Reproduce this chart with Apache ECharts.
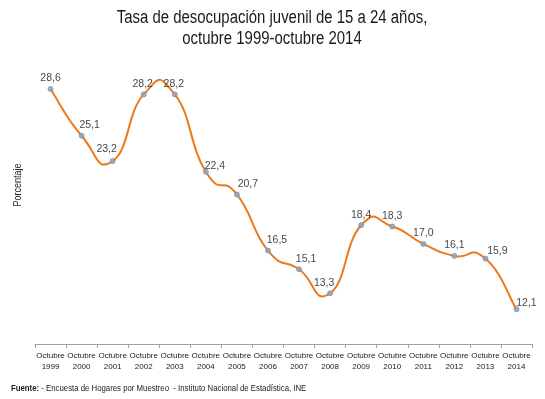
<!DOCTYPE html>
<html>
<head>
<meta charset="utf-8">
<script src="https://cdn.jsdelivr.net/npm/echarts@6/dist/echarts.min.js"></script>
<style>
  html, body { margin: 0; padding: 0; background: #fff; }
  #chart { width: 545px; height: 399px; }
</style>
</head>
<body>
<div id="chart"></div>
<script>
const years = ['1999', '2000', '2001', '2002', '2003', '2004', '2005', '2006',
  '2007', '2008', '2009', '2010', '2011', '2012', '2013', '2014'];
const categories = years.map((y) => 'Octubre\n' + y);
const rates = [28.6, 25.1, 23.2, 28.2, 28.2, 22.4, 20.7, 16.5, 15.1, 13.3, 18.4, 18.3, 17.0, 16.1, 15.9, 12.1];

// hand-placed label nudges, as in the original
const labelDx = [0, 8, -6, -1, -1, 9, 11, 9, 7, -6, 0, 0, 0, 0, 12, 10];
const labelDy = [0, 0, -2, 0, 0, 5, 0, 0, 0, 0, 0, 0, 0, 0, 3, 4];

const font = '"Liberation Sans", Arial, sans-serif';
const chart = echarts.init(document.getElementById('chart'));

// spline like the office-chart "smoothed line" (can overshoot between points)
const tension = 0.27;
function renderCurve(params, api) {
  const i = params.dataIndex;
  if (i >= rates.length - 1) return null;
  const pt = (k) => {
    k = Math.max(0, Math.min(rates.length - 1, k));
    return api.coord([k, rates[k]]);
  };
  const p0 = pt(i - 1), p1 = pt(i), p2 = pt(i + 1), p3 = pt(i + 2);
  return {
    type: 'bezierCurve',
    shape: {
      x1: p1[0], y1: p1[1],
      x2: p2[0], y2: p2[1],
      cpx1: p1[0] + (p2[0] - p0[0]) * tension,
      cpy1: p1[1] + (p2[1] - p0[1]) * tension,
      cpx2: p2[0] - (p3[0] - p1[0]) * tension,
      cpy2: p2[1] - (p3[1] - p1[1]) * tension
    },
    style: { stroke: '#ec7a1c', lineWidth: 2, fill: null }
  };
}

chart.setOption({
  animation: false,
  textStyle: { fontFamily: font },
  // narrow type in the original, so the texts are squeezed a bit
  graphic: [
    {
      type: 'text',
      x: 272,
      y: 8,
      scaleX: 0.83,
      style: {
        text: 'Tasa de desocupación juvenil de 15 a 24 años,\noctubre 1999-octubre 2014',
        font: '18px ' + font,
        fill: '#1a1a1a',
        align: 'center',
        lineHeight: 21
      }
    },
    {
      type: 'text',
      x: 11,
      y: 383,
      scaleX: 0.82,
      style: {
        text: '{b|Fuente:} - Encuesta de Hogares por Muestreo  - Instituto Nacional de Estadística, INE',
        font: '9.5px ' + font,
        fill: '#1a1a1a',
        align: 'left',
        rich: { b: { fontFamily: font, fontSize: 9.5, fontWeight: 'bold', fill: '#1a1a1a' } }
      }
    },
    {
      type: 'text',
      x: 18,
      y: 185,
      rotation: Math.PI / 2,
      scaleX: 0.9,
      style: {
        text: 'Porcentaje',
        font: '10px ' + font,
        fill: '#222',
        align: 'center',
        verticalAlign: 'middle'
      }
    }
  ],
  grid: { left: 35, right: 13, top: 57, bottom: 55 },
  xAxis: {
    type: 'category',
    data: categories,
    boundaryGap: true,
    axisLine: { lineStyle: { color: '#a0a0a0' } },
    axisTick: { show: true, length: 4, lineStyle: { color: '#a0a0a0' } },
    axisLabel: { fontFamily: font, fontSize: 8, color: '#222', lineHeight: 11, margin: 6, interval: 0 }
  },
  yAxis: {
    type: 'value',
    min: 9.5,
    max: 31,
    axisLine: { show: false },
    axisTick: { show: false },
    axisLabel: { show: false },
    splitLine: { show: false }
  },
  series: [
    {
      type: 'custom',
      data: rates.map((v, i) => [i, v]),
      renderItem: renderCurve,
      encode: { x: 0, y: 1 },
      z: 2,
      silent: true
    },
    {
      type: 'scatter',
      data: rates,
      symbol: 'circle',
      symbolSize: 5,
      z: 3,
      itemStyle: { color: '#8fa2bf', borderColor: '#7b8fae', borderWidth: 1 },
      label: {
        show: true,
        position: 'top',
        distance: 2,
        fontFamily: font,
        fontSize: 10.5,
        color: '#111',
        formatter: (p) => p.value.toFixed(1).replace('.', ',')
      },
      labelLayout: (p) => ({ dx: labelDx[p.dataIndex], dy: labelDy[p.dataIndex] })
    }
  ]
});
</script>
</body>
</html>
